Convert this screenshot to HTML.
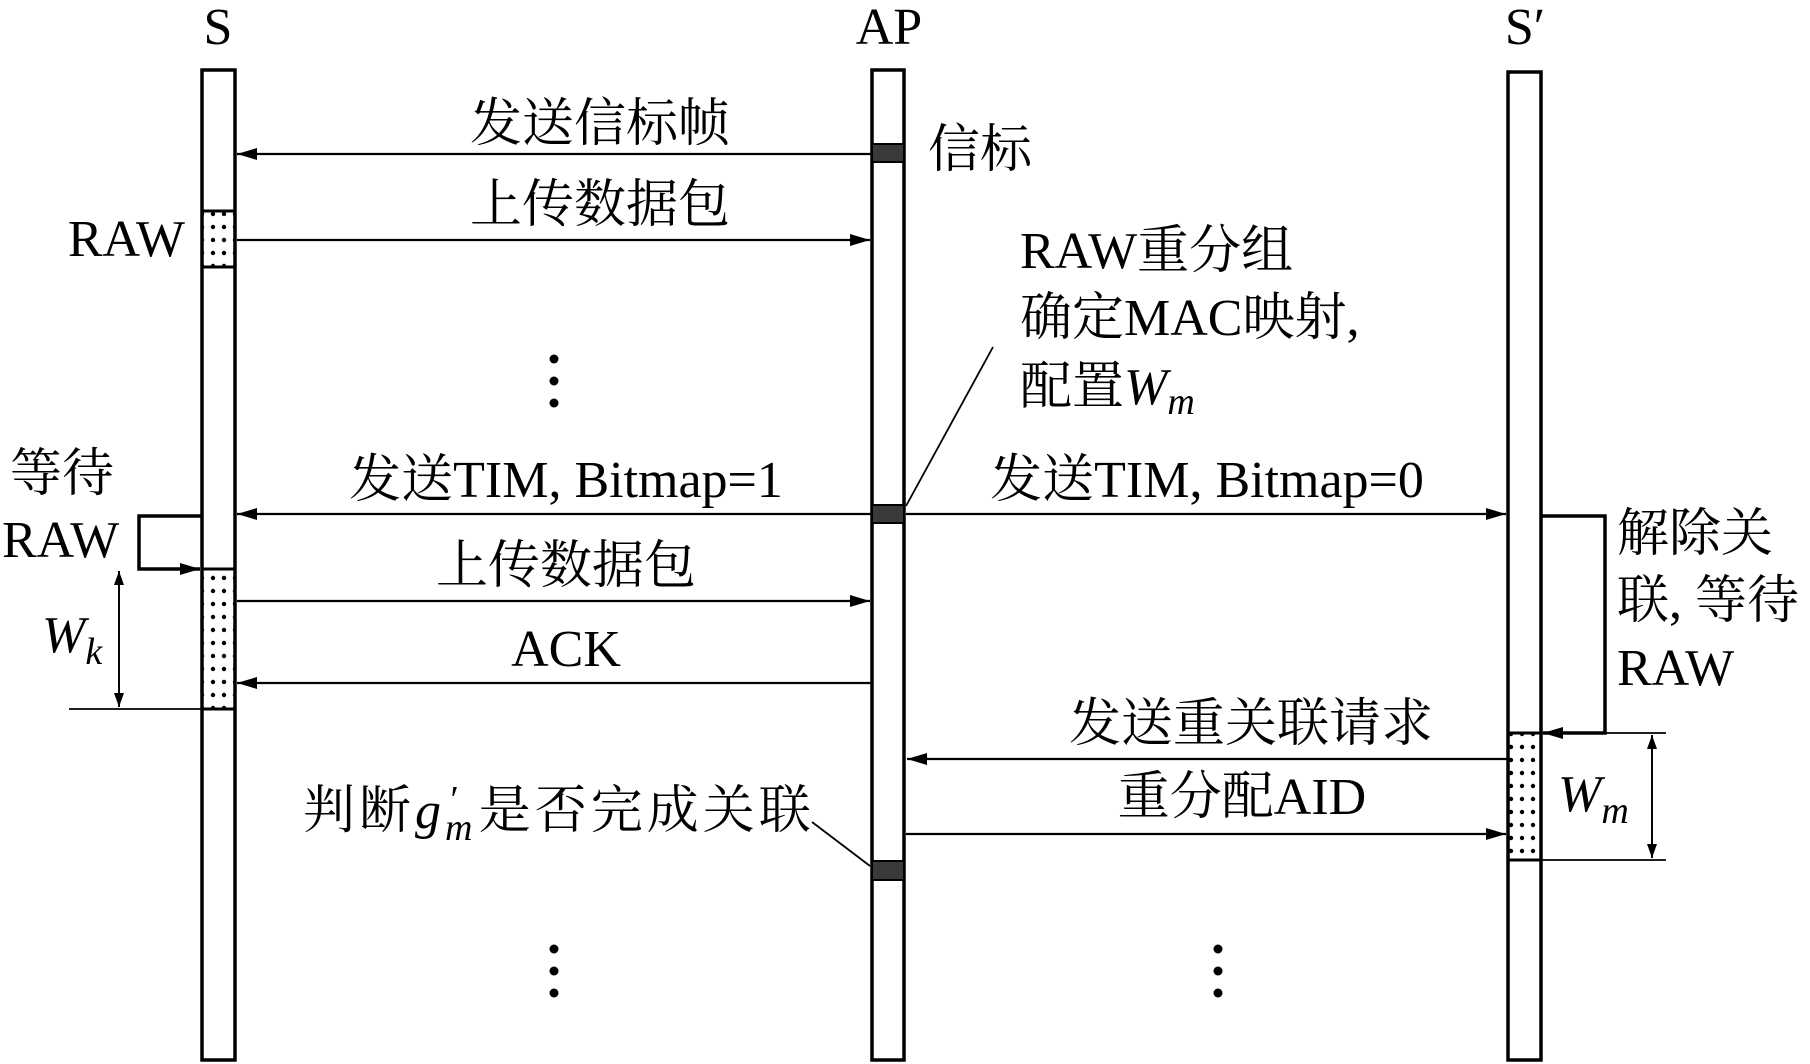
<!DOCTYPE html>
<html><head><meta charset="utf-8"><style>
html,body{margin:0;padding:0;background:#fff;}
svg{display:block;}
text{font-family:"Liberation Serif","Noto Serif CJK SC","Noto Sans CJK SC",serif;font-size:52px;fill:#000;}
.it{font-style:italic;}
</style></head><body>
<svg width="1810" height="1064" viewBox="0 0 1810 1064" xmlns="http://www.w3.org/2000/svg">
<defs>
<pattern id="dots" x="0" y="0" width="11" height="13" patternUnits="userSpaceOnUse">
<circle cx="4" cy="6" r="2.2" fill="#000"/>
</pattern>
<marker id="ah" viewBox="0 0 20 12" refX="20" refY="6" markerWidth="20" markerHeight="12" markerUnits="userSpaceOnUse" orient="auto">
<path d="M0,0 L20,6 L0,12 Z" fill="#000"/>
</marker>
<marker id="ahs" viewBox="0 0 14 10" refX="14" refY="5" markerWidth="14" markerHeight="10" markerUnits="userSpaceOnUse" orient="auto">
<path d="M0,0 L14,5 L0,10 Z" fill="#000"/>
</marker>
</defs>

<text x="218" y="44" text-anchor="middle">S</text>
<text x="889" y="44" text-anchor="middle">AP</text>
<text x="1525" y="44" text-anchor="middle">S′</text>

<rect x="202" y="70" width="33" height="990" fill="#fff" stroke="#000" stroke-width="3.5"/>
<rect x="872" y="70" width="32" height="990" fill="#fff" stroke="#000" stroke-width="3.5"/>
<rect x="1508" y="72" width="33" height="988" fill="#fff" stroke="#000" stroke-width="3.5"/>

<rect x="202" y="211" width="33" height="56" fill="url(#dots)" stroke="#000" stroke-width="3"/>
<rect x="202" y="569" width="33" height="140" fill="url(#dots)" stroke="#000" stroke-width="3"/>
<rect x="1508" y="733" width="33" height="127" fill="url(#dots)" stroke="#000" stroke-width="3"/>

<rect x="872" y="144" width="32" height="18" fill="#3a3a3a" stroke="#000" stroke-width="2"/>
<rect x="872" y="505" width="32" height="18" fill="#3a3a3a" stroke="#000" stroke-width="2"/>
<rect x="872" y="861" width="32" height="19" fill="#3a3a3a" stroke="#000" stroke-width="2"/>

<g stroke="#000" stroke-width="2.2" fill="none">
<line x1="872" y1="154" x2="237" y2="154" marker-end="url(#ah)"/>
<line x1="237" y1="240" x2="870" y2="240" marker-end="url(#ah)"/>
<line x1="872" y1="514" x2="237" y2="514" marker-end="url(#ah)"/>
<line x1="906" y1="514" x2="1506" y2="514" marker-end="url(#ah)"/>
<line x1="237" y1="601" x2="870" y2="601" marker-end="url(#ah)"/>
<line x1="872" y1="683" x2="237" y2="683" marker-end="url(#ah)"/>
<line x1="1508" y1="759" x2="907" y2="759" marker-end="url(#ah)"/>
<line x1="906" y1="834" x2="1506" y2="834" marker-end="url(#ah)"/>
<line x1="993" y1="347" x2="906" y2="506" stroke-width="1.8"/>
<line x1="812" y1="822" x2="870" y2="866" stroke-width="1.8"/>
<line x1="69" y1="709" x2="202" y2="709" stroke-width="1.8"/>
<line x1="119" y1="571" x2="119" y2="707" stroke-width="1.8" marker-end="url(#ahs)"/>
<line x1="119" y1="707" x2="119" y2="571" stroke-width="1.8" marker-end="url(#ahs)"/>
<line x1="1541" y1="733" x2="1666" y2="733" stroke-width="1.8"/>
<line x1="1541" y1="860" x2="1666" y2="860" stroke-width="1.8"/>
<line x1="1652" y1="735" x2="1652" y2="858" stroke-width="1.8" marker-end="url(#ahs)"/>
<line x1="1652" y1="858" x2="1652" y2="735" stroke-width="1.8" marker-end="url(#ahs)"/>
<polyline points="202,516 139,516 139,569 200,569" stroke-width="3.5" marker-end="url(#ah)"/>
<polyline points="1541,516 1605,516 1605,733 1543,733" stroke-width="3.5" marker-end="url(#ah)"/>
</g>

<g fill="#000">
<circle cx="554" cy="359" r="4.5"/><circle cx="554" cy="381" r="4.5"/><circle cx="554" cy="403" r="4.5"/>
<circle cx="554" cy="949" r="4.5"/><circle cx="554" cy="971" r="4.5"/><circle cx="554" cy="993" r="4.5"/>
<circle cx="1218" cy="949" r="4.5"/><circle cx="1218" cy="971" r="4.5"/><circle cx="1218" cy="993" r="4.5"/>
</g>

<text x="600" y="141" text-anchor="middle">发送信标帧</text>
<text x="928" y="167">信标</text>
<text x="600" y="222" text-anchor="middle">上传数据包</text>
<text x="185" y="256" text-anchor="end">RAW</text>
<text x="1020" y="268">RAW重分组</text>
<text x="1020" y="335">确定MAC映射,</text>
<text x="1020" y="404">配置<tspan class="it">W</tspan><tspan class="it" font-size="38" dy="10">m</tspan></text>
<text x="566" y="497" text-anchor="middle">发送TIM, Bitmap=1</text>
<text x="1207" y="497" text-anchor="middle">发送TIM, Bitmap=0</text>
<text x="10" y="491">等待</text>
<text x="2" y="557">RAW</text>
<text x="566" y="583" text-anchor="middle">上传数据包</text>
<text x="566" y="666" text-anchor="middle">ACK</text>
<text x="42" y="652" class="it">W<tspan font-size="38" dy="12">k</tspan></text>
<text x="1617" y="551">解除关</text>
<text x="1617" y="618">联, 等待</text>
<text x="1617" y="685">RAW</text>
<text x="1251" y="741" text-anchor="middle">发送重关联请求</text>
<text x="1242" y="814" text-anchor="middle">重分配AID</text>
<text x="1558" y="811" class="it">W<tspan font-size="38" dy="12">m</tspan></text>
<text x="303" y="828" letter-spacing="4">判断<tspan class="it">g</tspan><tspan class="it" font-size="38" dy="12">m</tspan><tspan font-size="38" dx="-26" dy="-28">′</tspan><tspan dx="16" dy="16">是否完成关联</tspan></text>
</svg>
</body></html>
